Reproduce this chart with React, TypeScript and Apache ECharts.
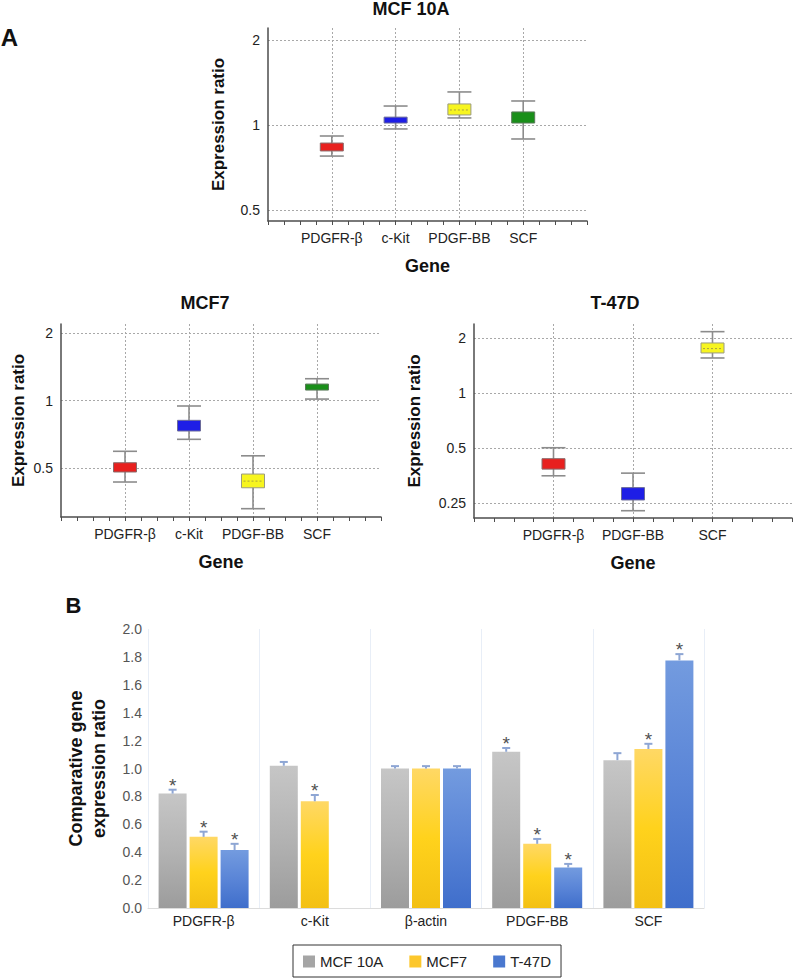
import React, { useEffect, useRef } from 'react';
import * as echarts from 'echarts';

const FONT = "'Liberation Sans', Arial, Helvetica, sans-serif";

// ---------- Panel A: box plots (REST-style), values = [whisker low, Q1, median, Q3, whisker high]
const genesMCF10A = ['PDGFR-β', 'c-Kit', 'PDGF-BB', 'SCF'];
const boxMCF10A = [
  [0.776, 0.809, 0.835, 0.863, 0.914],
  [0.968, 1.016, 1.04, 1.066, 1.167],
  [1.059, 1.085, 1.13, 1.187, 1.309],
  [0.892, 1.016, 1.06, 1.112, 1.216],
];
const genesMCF7 = ['PDGFR-β', 'c-Kit', 'PDGF-BB', 'SCF'];
const boxMCF7 = [
  [0.433, 0.48, 0.505, 0.528, 0.594],
  [0.672, 0.732, 0.775, 0.817, 0.947],
  [0.329, 0.408, 0.437, 0.47, 0.567],
  [1.017, 1.116, 1.15, 1.187, 1.254],
];
const genesT47D = ['PDGFR-β', 'PDGF-BB', 'SCF'];
const boxT47D = [
  [0.354, 0.385, 0.41, 0.439, 0.504],
  [0.228, 0.261, 0.283, 0.305, 0.366],
  [1.561, 1.663, 1.757, 1.886, 2.175],
];

// ---------- Panel B: bar chart
const genesB = ['PDGFR-β', 'c-Kit', 'β-actin', 'PDGF-BB', 'SCF'];
const cellLines = ['MCF 10A', 'MCF7', 'T-47D'];
const mcf10aMean = [0.82, 1.02, 1.0, 1.12, 1.06];
const mcf10aErr = [0.028, 0.027, 0.017, 0.027, 0.05];
const mcf10aSig = [true, false, false, true, false];
const mcf7Mean = [0.51, 0.765, 1.0, 0.46, 1.14];
const mcf7Err = [0.037, 0.045, 0.017, 0.035, 0.037];
const mcf7Sig = [true, true, false, true, true];
const t47dMean = [0.415, null, 1.0, 0.29, 1.775];
const t47dErr = [0.045, null, 0.017, 0.026, 0.045];
const t47dSig = [true, false, false, true, true];
const barTicks = [0, 2, 0.2];

const BOX_STYLES = [
  { fill: '#e8201e', stroke: '#8a6a6a', median: null },
  { fill: '#1e1ee6', stroke: '#6a6a9a', median: null },
  { fill: '#f7f51f', stroke: '#9a9a80', median: '#a8a040' },
  { fill: '#1a8f1a', stroke: '#5a7a5a', median: null },
];

const BAR_W = 28;
const BAR_GAP = 3;

const grad = (top: string, mid: string, bottom: string) => ({
  type: 'linear', x: 0, y: 0, x2: 0, y2: 1,
  colorStops: [
    { offset: 0, color: top },
    { offset: 0.5, color: mid },
    { offset: 1, color: bottom },
  ],
});
const BAR_FILLS = [
  grad('#c6c6c6', '#b3b3b3', '#9c9c9c'),
  grad('#ffd865', '#ffd21c', '#f3c013'),
  grad('#739bdf', '#5a85d7', '#3f6ecb'),
];
const LEGEND_COLORS = ['#a5a5a5', '#fcc72c', '#4a78cf'];

const renderBox = (params: any, api: any) => {
  const x = api.value(0);
  const low = api.coord([x, api.value(1)]);
  const q1 = api.coord([x, api.value(2)]);
  const med = api.coord([x, api.value(3)]);
  const q3 = api.coord([x, api.value(4)]);
  const high = api.coord([x, api.value(5)]);
  const cx = low[0];
  const bw = 23;
  const cw = 24;
  const st = BOX_STYLES[params.dataIndex % 4];
  const wStyle = { stroke: '#8c8c8c', lineWidth: 1.6 };
  const children: any[] = [
    { type: 'line', shape: { x1: cx, y1: high[1], x2: cx, y2: low[1] }, style: wStyle },
    { type: 'line', shape: { x1: cx - cw / 2, y1: high[1], x2: cx + cw / 2, y2: high[1] }, style: wStyle },
    { type: 'line', shape: { x1: cx - cw / 2, y1: low[1], x2: cx + cw / 2, y2: low[1] }, style: wStyle },
    {
      type: 'rect',
      shape: { x: cx - bw / 2, y: q3[1], width: bw, height: q1[1] - q3[1] },
      style: { fill: st.fill, stroke: st.stroke, lineWidth: 1 },
    },
  ];
  if (st.median) {
    children.push({
      type: 'line',
      shape: { x1: cx - bw / 2 + 2, y1: med[1], x2: cx + bw / 2 - 2, y2: med[1] },
      style: { stroke: st.median, lineWidth: 1, lineDash: [2, 2] },
    });
  }
  return { type: 'group', children };
};

const makeErrRender = (k: number) => (params: any, api: any) => {
  const ci = api.value(0);
  const mean = api.value(1);
  const err = api.value(2);
  const sig = api.value(3);
  const base = api.coord([ci, mean]);
  const top = api.coord([ci, mean + err]);
  const x = base[0] + (k - 1) * (BAR_W + BAR_GAP);
  const st = { stroke: '#8ea6d4', lineWidth: 2 };
  const children: any[] = [
    { type: 'line', shape: { x1: x, y1: base[1], x2: x, y2: top[1] }, style: st },
    { type: 'line', shape: { x1: x - 4, y1: top[1], x2: x + 4, y2: top[1] }, style: st },
  ];
  if (sig) {
    children.push({
      type: 'text',
      x,
      y: top[1] + 5,
      style: {
        text: '*', align: 'center', verticalAlign: 'bottom',
        fontSize: 19, fontFamily: FONT, fill: '#505050',
      },
    });
  }
  return { type: 'group', children };
};

const dotted = { type: [2, 2], color: '#a8a8a8', width: 1 };
const axisDark = { color: '#4d4d4d', width: 1.5 };

const boxX = (gi: number, genes: string[]) => ({
  gridIndex: gi,
  type: 'value',
  min: 0,
  max: genes.length + 1,
  interval: 1,
  axisLine: { show: true, onZero: false, lineStyle: axisDark },
  axisTick: { show: true, length: 4, lineStyle: { color: '#4d4d4d' } },
  minorTick: { show: true, splitNumber: 4, length: 4, lineStyle: { color: '#4d4d4d' } },
  minorSplitLine: { show: false },
  splitLine: { show: true, showMinLine: false, showMaxLine: false, lineStyle: dotted },
  axisLabel: {
    formatter: (v: number) => genes[Math.round(v) - 1] ?? '',
    margin: 10, fontSize: 14, color: '#222', fontFamily: FONT,
  },
  name: 'Gene',
  nameLocation: 'middle',
  nameGap: 36,
  nameTextStyle: { fontWeight: 'bold', fontSize: 18, color: '#111', fontFamily: FONT },
});

const boxY = (gi: number, min: number, max: number, gap: number) => ({
  gridIndex: gi,
  type: 'log',
  logBase: 2,
  min,
  max,
  axisLine: { show: true, onZero: false, lineStyle: axisDark },
  axisTick: { show: false },
  splitLine: { show: true, showMinLine: false, showMaxLine: false, lineStyle: dotted },
  axisLabel: {
    formatter: (v: number) => {
      const l = Math.log2(v);
      return Math.abs(l - Math.round(l)) < 1e-6 ? String(+v.toFixed(3)) : '';
    },
    margin: 8, fontSize: 14, color: '#222', fontFamily: FONT,
  },
  name: 'Expression ratio',
  nameLocation: 'middle',
  nameRotate: 90,
  nameGap: gap,
  nameTextStyle: { fontWeight: 'bold', fontSize: 17, color: '#111', fontFamily: FONT },
});

const boxSeries = (gi: number, boxes: number[][]) => ({
  type: 'custom',
  xAxisIndex: gi,
  yAxisIndex: gi,
  renderItem: renderBox,
  encode: { x: 0, y: [1, 2, 3, 4, 5] },
  data: boxes.map((b, j) => [j + 1, ...b]),
  z: 5,
});

const errData = (means: (number | null)[], errs: (number | null)[], sig: boolean[]) =>
  means
    .map((m, i) => (m == null ? null : [i, m, errs[i] as number, sig[i] ? 1 : 0]))
    .filter((d) => d != null);

export default function App() {
  const ref = useRef<HTMLDivElement>(null);
  useEffect(() => {
    if (!ref.current) return;
    const chart = echarts.init(ref.current, undefined, { renderer: 'svg' });
    const means = [mcf10aMean, mcf7Mean, t47dMean];
    const errs = [mcf10aErr, mcf7Err, t47dErr];
    const sigs = [mcf10aSig, mcf7Sig, t47dSig];
    const option: any = {
      animation: false,
      backgroundColor: '#ffffff',
      textStyle: { fontFamily: FONT },
      grid: [
        { left: 268, top: 28, width: 319, height: 193, outerBoundsMode: 'none' },
        { left: 61, top: 324, width: 320, height: 193, outerBoundsMode: 'none' },
        { left: 474, top: 324, width: 318, height: 194, outerBoundsMode: 'none' },
        { left: 148, top: 629, width: 556, height: 279, outerBoundsMode: 'none' },
      ],
      xAxis: [
        boxX(0, genesMCF10A),
        boxX(1, genesMCF7),
        boxX(2, genesT47D),
        {
          gridIndex: 3,
          type: 'category',
          data: genesB,
          axisLine: { show: true, lineStyle: { color: '#dcdcdc', width: 1 } },
          axisTick: { show: false },
          splitLine: { show: true, lineStyle: { color: '#e8eef7', width: 1 } },
          axisLabel: { fontSize: 14, color: '#222', margin: 6, fontFamily: FONT },
        },
      ],
      yAxis: [
        boxY(0, 0.457, 2.205, 41),
        boxY(1, 0.302, 2.203, 34),
        boxY(2, 0.208, 2.395, 51),
        {
          gridIndex: 3,
          type: 'value',
          min: barTicks[0],
          max: barTicks[1],
          interval: barTicks[2],
          axisLine: { show: false },
          axisTick: { show: false },
          splitLine: { show: false },
          axisLabel: {
            formatter: (v: number) => v.toFixed(1),
            fontSize: 14, color: '#555', margin: 6, fontFamily: FONT,
          },
          name: 'Comparative gene\nexpression ratio',
          nameLocation: 'middle',
          nameRotate: 90,
          nameGap: 38,
          nameTextStyle: {
            fontWeight: 'bold', fontSize: 18, lineHeight: 23, color: '#111', fontFamily: FONT,
          },
        },
      ],
      legend: {
        left: 293,
        top: 945,
        orient: 'horizontal',
        padding: [9, 10, 8, 10],
        itemWidth: 12,
        itemHeight: 12,
        itemGap: 26,
        icon: 'rect',
        borderColor: '#333',
        borderWidth: 1,
        selectedMode: false,
        textStyle: { fontSize: 15, color: '#222', fontFamily: FONT },
        data: cellLines.map((n, i) => ({ name: n, itemStyle: { color: LEGEND_COLORS[i] } })),
      },
      graphic: [
        { type: 'text', x: 9.5, y: 37, style: { text: 'A', align: 'center', verticalAlign: 'middle', fontSize: 24, fontWeight: 'bold', fontFamily: FONT, fill: '#111' } },
        { type: 'text', x: 73.5, y: 605, style: { text: 'B', align: 'center', verticalAlign: 'middle', fontSize: 22, fontWeight: 'bold', fontFamily: FONT, fill: '#111' } },
        { type: 'text', x: 411, y: 9, style: { text: 'MCF 10A', align: 'center', verticalAlign: 'middle', fontSize: 18, fontWeight: 'bold', fontFamily: FONT, fill: '#111' } },
        { type: 'text', x: 205, y: 303, style: { text: 'MCF7', align: 'center', verticalAlign: 'middle', fontSize: 18, fontWeight: 'bold', fontFamily: FONT, fill: '#111' } },
        { type: 'text', x: 615, y: 303, style: { text: 'T-47D', align: 'center', verticalAlign: 'middle', fontSize: 18, fontWeight: 'bold', fontFamily: FONT, fill: '#111' } },
      ],
      series: [
        boxSeries(0, boxMCF10A),
        boxSeries(1, boxMCF7),
        boxSeries(2, boxT47D),
        ...cellLines.map((n, k) => ({
          type: 'bar',
          name: n,
          xAxisIndex: 3,
          yAxisIndex: 3,
          data: means[k].map((v) => (v == null ? '-' : v)),
          barWidth: BAR_W,
          barGap: `${(BAR_GAP / BAR_W) * 100}%`,
          itemStyle: { color: BAR_FILLS[k] },
          z: 2,
        })),
        ...cellLines.map((n, k) => ({
          type: 'custom',
          name: n + ' error',
          xAxisIndex: 3,
          yAxisIndex: 3,
          renderItem: makeErrRender(k),
          encode: { x: 0, y: 1 },
          data: errData(means[k], errs[k], sigs[k]),
          z: 4,
        })),
      ],
    };
    chart.setOption(option);
    return () => chart.dispose();
  }, []);
  return (
    <div
      ref={ref}
      style={{ position: 'fixed', left: 0, top: 0, width: 794, height: 978, background: '#fff' }}
    />
  );
}
